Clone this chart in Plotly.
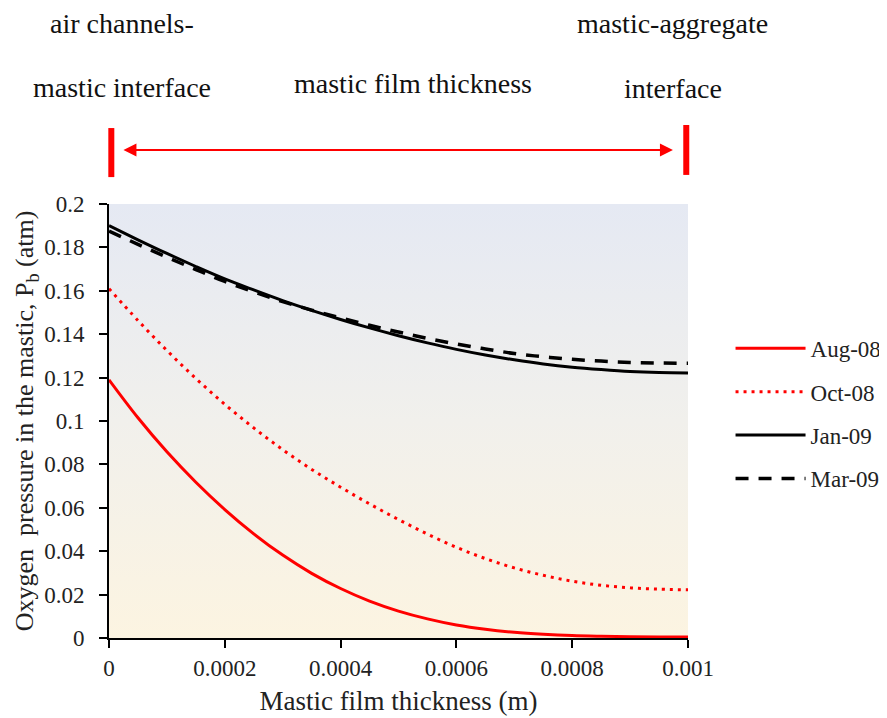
import plotly.graph_objects as go

# ---- data ----
thickness_m = [0, 0.00005, 0.0001, 0.00015, 0.0002, 0.00025, 0.0003, 0.00035, 0.0004,
               0.00045, 0.0005, 0.00055, 0.0006, 0.00065, 0.0007, 0.00075, 0.0008,
               0.00085, 0.0009, 0.00095, 0.001]
aug_08 = [0.119, 0.1015, 0.0858, 0.0718, 0.0592, 0.0480, 0.0382, 0.0298, 0.0228, 0.0170,
          0.0124, 0.0088, 0.0060, 0.0040, 0.0026, 0.0017, 0.0011, 0.0008, 0.0006, 0.0005, 0.0005]
oct_08 = [0.161, 0.1463, 0.1325, 0.1196, 0.1077, 0.0968, 0.0868, 0.0777, 0.0695, 0.0618,
          0.0546, 0.0479, 0.0418, 0.0366, 0.0323, 0.0289, 0.0262, 0.0243, 0.0231, 0.0225, 0.0222]
jan_09 = [0.190, 0.1835, 0.1772, 0.1712, 0.1655, 0.1604, 0.1555, 0.1510, 0.1468, 0.1429,
          0.1393, 0.1360, 0.1330, 0.1304, 0.1282, 0.1263, 0.1248, 0.1237, 0.1228, 0.1223, 0.1221]
mar_09 = [0.1875, 0.1814, 0.1755, 0.1698, 0.1643, 0.1595, 0.1550, 0.1511, 0.1475, 0.1441,
          0.1410, 0.1381, 0.1355, 0.1332, 0.1311, 0.1296, 0.1284, 0.1276, 0.1270, 0.1267, 0.1266]

series_names = ["Aug-08", "Oct-08", "Jan-09", "Mar-09"]

x_tickvals = [0, 0.0002, 0.0004, 0.0006, 0.0008, 0.001]
x_ticktext = ["0", "0.0002", "0.0004", "0.0006", "0.0008", "0.001"]
y_tickvals = [0, 0.02, 0.04, 0.06, 0.08, 0.1, 0.12, 0.14, 0.16, 0.18, 0.2]
y_ticktext = ["0", "0.02", "0.04", "0.06", "0.08", "0.1", "0.12", "0.14", "0.16", "0.18", "0.2"]

FONT = "Times New Roman, Liberation Serif, DejaVu Serif, serif"

fig = go.Figure()

# gradient plot background
fig.add_trace(go.Scatter(
    x=[0, 0.001, 0.001, 0, 0], y=[0, 0, 0.2, 0.2, 0],
    mode="lines", line=dict(width=0), fill="toself",
    fillgradient=dict(type="vertical",
                      colorscale=[[0, "#FCF4E1"], [0.5, "#F1F0EC"], [1, "#E5E9F3"]]),
    hoverinfo="skip", showlegend=False))

styles = [
    dict(color="#FF0000", width=3, dash="solid"),
    dict(color="#FF0000", width=3, dash="3px,5px"),
    dict(color="#000000", width=3, dash="solid"),
    dict(color="#000000", width=3.5, dash="13px,10px"),
]
for name, ys, st in zip(series_names, [aug_08, oct_08, jan_09, mar_09], styles):
    fig.add_trace(go.Scatter(x=thickness_m, y=ys, mode="lines", name=name,
                             line=dict(shape="spline", **st), legendgroup=name))

# page body adds an 8px offset, so the figure is 879x710 placed at (8, 8)
fig.update_layout(
    width=879, height=710,
    margin=dict(l=101, r=199, t=196, b=80, autoexpand=False),
    paper_bgcolor="white", plot_bgcolor="rgba(0,0,0,0)",
    font=dict(family=FONT, color="#222222", size=23),
    showlegend=True,
    legend=dict(xref="container", yref="container", x=0.822, y=0.551,
                xanchor="left", yanchor="top",
                font=dict(family=FONT, size=23, color="#222222"),
                itemwidth=70, tracegroupgap=10.5, traceorder="grouped",
                bgcolor="rgba(0,0,0,0)"),
)

fig.update_xaxes(range=[0, 0.001], tickvals=x_tickvals, ticktext=x_ticktext,
                 showgrid=False, zeroline=False, showline=True, linecolor="black",
                 linewidth=2, ticks="outside", ticklen=8, tickwidth=2, tickcolor="black",
                 automargin=False,
                 tickfont=dict(family=FONT, size=23),
                 title=dict(text="Mastic film thickness (m)",
                            font=dict(family=FONT, size=27), standoff=12))
fig.update_yaxes(range=[0, 0.2], tickvals=y_tickvals, ticktext=y_ticktext,
                 showgrid=False, zeroline=False, showline=True, linecolor="black",
                 linewidth=2, ticks="outside", ticklen=8, tickwidth=2, tickcolor="black",
                 automargin=False, ticklabelstandoff=10,
                 tickfont=dict(family=FONT, size=23),
                 title=dict(text="Oxygen  pressure in the mastic, P<sub>b</sub> (atm)",
                            font=dict(family=FONT, size=26), standoff=3))

# top annotations
def txt(text, x, y):
    fig.add_annotation(text=text, xref="paper", yref="paper", x=x, y=y,
                       xanchor="center", yanchor="middle", showarrow=False,
                       font=dict(family=FONT, size=28, color="#111111"))

txt("air channels-", 0.0219, 1.415)
txt("mastic interface", 0.0219, 1.2675)
txt("mastic film thickness", 0.5245, 1.2767)
txt("mastic-aggregate", 0.9736, 1.415)
txt("interface", 0.9736, 1.2652)

# red boundary bars
fig.add_shape(type="line", xref="paper", yref="paper", x0=0.004, x1=0.004,
              y0=1.062, y1=1.175, line=dict(color="#FF0000", width=6))
fig.add_shape(type="line", xref="paper", yref="paper", x0=0.997, x1=0.997,
              y0=1.067, y1=1.182, line=dict(color="#FF0000", width=6))

# double-headed arrow
fig.add_annotation(text="", xref="paper", yref="paper", x=0.974, y=1.1245,
                   ax=-551, ay=0, showarrow=True, arrowhead=2, startarrowhead=2,
                   arrowside="end+start", arrowsize=1.3, startarrowsize=1.3,
                   arrowwidth=2, arrowcolor="#FF0000")

fig.write_html("out.html")
